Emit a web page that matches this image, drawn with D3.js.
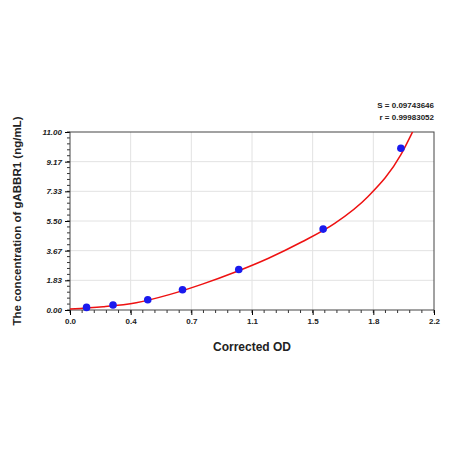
<!DOCTYPE html>
<html><head><meta charset="utf-8">
<script src="https://cdn.jsdelivr.net/npm/d3@7"></script>
<style>body{margin:0;background:#fff}text{font-family:"Liberation Sans",Arial,sans-serif}</style>
</head><body><div id="chart"></div>
<script>
// standards
let odValues = [0.10, 0.26, 0.47, 0.68, 1.02, 1.53, 2.00];
let concValues = [0.16, 0.31, 0.63, 1.25, 2.5, 5.0, 10.0];
// fitted curve
let curveOD = [0, 0.2, 0.4, 0.6, 0.8, 1.0, 1.2, 1.4, 1.6, 1.8, 2.0, 2.07];
let curveConc = [0.06, 0.2, 0.45, 0.95, 1.6, 2.35, 3.2, 4.2, 5.35, 7.0, 9.6, 11.0];
let xTickLabels = ['0.0', '0.4', '0.7', '1.1', '1.5', '1.8', '2.2'];
let yTickLabels = ['0.00', '1.83', '3.67', '5.50', '7.33', '9.17', '11.00'];
let statLines = ['S = 0.09743646', 'r = 0.99983052'];

let margin = {top: 132, left: 70},
    width = 364, height = 178;

let svg = d3.select('#chart').append('svg')
    .attr('width', 450).attr('height', 450);
let g = svg.append('g').attr('transform', 'translate(' + margin.left + ',' + margin.top + ')');

let x = d3.scaleLinear().domain([0, 2.2]).range([0, width]);
let y = d3.scaleLinear().domain([0, 11]).range([height, 0]);
let xMajor = d3.range(7).map(i => i * 2.2 / 6);
let yMajor = d3.range(7).map(i => i * 11 / 6);

// grid
g.selectAll('.vg').data(xMajor.slice(1, -1)).enter().append('line')
    .attr('x1', d => x(d)).attr('x2', d => x(d)).attr('y1', 0).attr('y2', height)
    .attr('stroke', '#e2e2e2');
g.selectAll('.hg').data(yMajor.slice(1, -1)).enter().append('line')
    .attr('y1', d => y(d)).attr('y2', d => y(d)).attr('x1', 0).attr('x2', width)
    .attr('stroke', '#e2e2e2');

// minor ticks
let xMinor = d3.range(31).map(i => i * 2.2 / 30);
let yMinor = d3.range(31).map(i => i * 11 / 30);
g.selectAll('.xm').data(xMinor).enter().append('line')
    .attr('x1', d => x(d)).attr('x2', d => x(d)).attr('y1', height).attr('y2', height + 3)
    .attr('stroke', '#333');
g.selectAll('.ym').data(yMinor).enter().append('line')
    .attr('y1', d => y(d)).attr('y2', d => y(d)).attr('x1', 0).attr('x2', -3)
    .attr('stroke', '#333');

// axes
g.append('g').attr('transform', 'translate(0,' + height + ')')
    .call(d3.axisBottom(x).tickValues(xMajor).tickSize(5).tickFormat((d, i) => xTickLabels[i]))
    .call(a => a.select('.domain').remove())
    .selectAll('text').attr('font-size', 8).attr('font-weight', 'bold').attr('fill', '#222');
g.append('g')
    .call(d3.axisLeft(y).tickValues(yMajor).tickSize(5).tickFormat((d, i) => yTickLabels[i]))
    .call(a => a.select('.domain').remove())
    .selectAll('text').attr('font-size', 8).attr('font-weight', 'bold').attr('font-style', 'italic').attr('fill', '#222');

g.append('rect').attr('width', width).attr('height', height)
    .attr('fill', 'none').attr('stroke', '#444');

// fitted curve, clipped to the plot area
g.append('clipPath').attr('id', 'clip').append('rect')
    .attr('x', 0).attr('y', 0).attr('width', width).attr('height', height);
let line = d3.line().x(d => x(d[0])).y(d => y(d[1])).curve(d3.curveMonotoneX);
g.append('path').datum(d3.zip(curveOD, curveConc))
    .attr('d', line).attr('fill', 'none').attr('stroke', '#ee1111').attr('stroke-width', 1.5)
    .attr('clip-path', 'url(#clip)');

// points
g.selectAll('.pt').data(d3.zip(odValues, concValues)).enter().append('circle')
    .attr('cx', d => x(d[0])).attr('cy', d => y(d[1])).attr('r', 3.8)
    .attr('fill', '#1a1aee');

// titles
svg.append('text').attr('x', margin.left + width / 2).attr('y', 351)
    .attr('text-anchor', 'middle').attr('font-size', 12).attr('font-weight', 'bold')
    .attr('fill', '#222').text('Corrected OD');
svg.append('text').attr('transform', 'translate(21,' + (margin.top + height / 2) + ') rotate(-90)')
    .attr('text-anchor', 'middle').attr('font-size', 11.5).attr('font-weight', 'bold')
    .attr('fill', '#222').text('The concentration of gABBR1 (ng/mL)');
svg.selectAll('.stat').data(statLines).enter().append('text')
    .attr('x', 434).attr('y', (d, i) => 108 + i * 12)
    .attr('text-anchor', 'end').attr('font-size', 8).attr('font-weight', 'bold')
    .attr('fill', '#222').text(d => d);
</script></body></html>
